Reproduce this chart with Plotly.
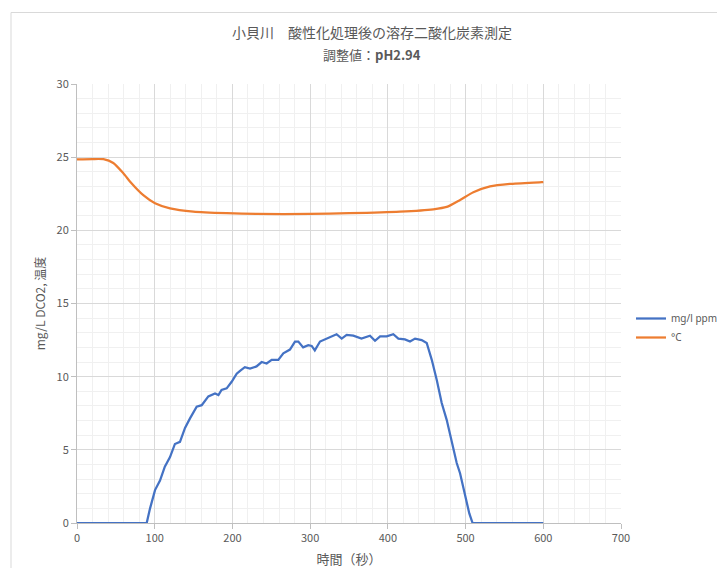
import plotly.graph_objects as go

# Blue series: dissolved CO2 (mg/l ppm)
co2_t = [0, 89.7, 94, 100.4, 106.8, 113, 119.7, 126, 132.5, 139, 145.4, 154, 160.5, 169, 177.6, 182, 186,
         192.6, 199, 205.5, 209.8, 216, 222.6, 231, 237.6, 244, 250.5, 259, 265.5, 274, 280.5, 284.8, 291,
         297.6, 302, 306, 312.7, 321, 328, 334, 340.6, 347, 355.6, 366, 377, 383.5, 390, 398.5, 407, 413.5,
         422, 428.5, 435, 443.5, 450, 456.5, 463, 469.3, 475.7, 482, 488.6, 492.9, 499.3, 504.8, 509, 600]
co2_v = [0, 0, 1.0, 2.25, 2.9, 3.85, 4.5, 5.4, 5.55, 6.5, 7.15, 7.95, 8.05, 8.65, 8.85, 8.75, 9.1,
         9.2, 9.65, 10.2, 10.4, 10.65, 10.55, 10.7, 11.0, 10.9, 11.15, 11.15, 11.6, 11.85, 12.4, 12.4, 12.0,
         12.15, 12.1, 11.8, 12.4, 12.6, 12.75, 12.9, 12.6, 12.85, 12.8, 12.6, 12.8, 12.45, 12.75, 12.75, 12.9, 12.6,
         12.55, 12.4, 12.6, 12.5, 12.3, 11.15, 9.75, 8.2, 7.05, 5.7, 4.1, 3.4, 2.0, 0.65, 0, 0]

# Orange series: temperature (°C)
temp_t = [0, 20, 34, 46.7, 59.6, 70.4, 85.3, 100.4, 119.7, 149.7, 192.6, 231, 300, 350, 415.6, 458.5,
          475.7, 493, 510, 531.5, 557, 598, 600]
temp_v = [24.85, 24.87, 24.86, 24.6, 23.9, 23.2, 22.4, 21.85, 21.5, 21.28, 21.17, 21.12, 21.12, 21.17, 21.28, 21.44,
          21.6, 22.08, 22.6, 23.0, 23.17, 23.29, 23.3]

series_names = ["mg/l ppm", "°C"]
title_line1 = "小貝川　酸性化処理後の溶存二酸化炭素測定"
title_line2 = "調整値：<b>pH2.94</b>"
x_title = "時間（秒）"
y_title = "mg/L DCO2, 温度"

FONT = "Noto Sans CJK JP"
GRAY = "#595959"

# page body has an 8px margin, so the figure is sized to fit the window without scrollbars
W, H = 717, 560
L, R, T, B = 69, 104, 76, 45
PW, PH = W - L - R, H - T - B

fig = go.Figure()
fig.add_trace(go.Scatter(x=co2_t, y=co2_v, mode="lines", name=series_names[0],
                         line=dict(color="#4472C4", width=2.25)))
fig.add_trace(go.Scatter(x=temp_t, y=temp_v, mode="lines", name=series_names[1],
                         line=dict(color="#ED7D31", width=2.25, shape="spline", smoothing=0.6)))

axis_common = dict(
    showgrid=True, gridcolor="#d9d9d9", gridwidth=1,
    showline=True, linecolor="#bfbfbf", linewidth=1,
    ticks="outside", ticklen=5, tickcolor="#bfbfbf",
    tickfont=dict(family=FONT, size=11, color=GRAY),
    zeroline=False,
)

fig.update_xaxes(range=[0, 700], dtick=100, tick0=0,
                 minor=dict(dtick=20, showgrid=True, gridcolor="#f0f0f0", ticks=""),
                 title=dict(text=x_title, font=dict(family=FONT, size=13, color=GRAY), standoff=12),
                 **axis_common)
fig.update_yaxes(range=[0, 30], dtick=5, tick0=0,
                 minor=dict(dtick=1, showgrid=True, gridcolor="#f0f0f0", ticks=""),
                 title=dict(text=y_title, font=dict(family=FONT, size=12, color=GRAY), standoff=8),
                 **axis_common)

title_x = (364 - L) / PW
fig.update_layout(
    width=W, height=H,
    margin=dict(l=L, r=R, t=T, b=B, autoexpand=False),
    paper_bgcolor="white", plot_bgcolor="white",
    font=dict(family=FONT, color=GRAY),
    annotations=[
        dict(text=title_line1, xref="paper", yref="paper", x=title_x, y=(T + PH - 24) / PH,
             xanchor="center", yanchor="middle", showarrow=False,
             font=dict(family=FONT, size=14, color=GRAY)),
        dict(text=title_line2, xref="paper", yref="paper", x=title_x, y=(T + PH - 47) / PH,
             xanchor="center", yanchor="middle", showarrow=False,
             font=dict(family=FONT, size=13, color=GRAY)),
    ],
    legend=dict(xref="container", yref="container", x=623 / W, y=1 - 320 / H,
                xanchor="left", yanchor="middle",
                font=dict(family="Noto Sans", size=10, color=GRAY),
                bgcolor="rgba(0,0,0,0)", itemwidth=30, tracegroupgap=4),
    showlegend=True,
    shapes=[dict(type="rect", xref="paper", yref="paper",
                 x0=(3 - L) / PW, x1=1.3, y0=-0.3, y1=(T + PH - 4.5) / PH,
                 line=dict(color="#d9d9d9", width=1), fillcolor="rgba(0,0,0,0)", layer="below")],
)

fig.write_html("out.html")
